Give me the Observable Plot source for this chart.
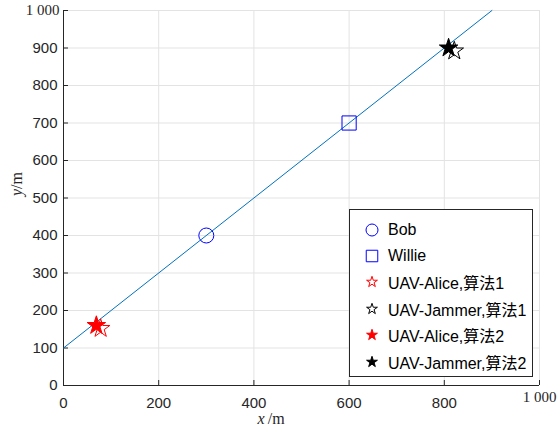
<!DOCTYPE html>
<html><head><meta charset="utf-8">
<script src="https://cdn.jsdelivr.net/npm/d3@7"></script>
<script src="https://cdn.jsdelivr.net/npm/@observablehq/plot@0.6"></script>
<style>
body{margin:0;background:#fff}
#wrap{position:relative;width:558px;height:430px;font-family:"Liberation Sans",Arial,"Noto Sans CJK SC",sans-serif}
#legend{position:absolute;left:349px;top:209px;width:182px;height:166px;border:1px solid #262626;background:#fff;box-sizing:content-box}
.row{position:absolute;left:0;height:20px;display:flex;align-items:center;font-size:16px;color:#000;white-space:nowrap}
.row svg{position:absolute;left:12px;top:0}
.row span{position:absolute;left:38px;font-family:"Liberation Sans","Noto Sans CJK SC",sans-serif}
.lab{position:absolute;font-family:"Liberation Serif","Times New Roman",serif;font-size:16px;line-height:18px;color:#262626;white-space:nowrap;text-align:center;width:36px}
</style>
</head><body><div id="wrap"></div>
<script>
// data
const lineX = [0, 900];
const lineY = [100, 1000];
const names = ["Bob", "Willie", "UAV-Alice,算法1", "UAV-Jammer,算法1", "UAV-Alice,算法2", "UAV-Jammer,算法2"];
const px = [300, 600, 78, 821, 69, 809];
const py = [400, 700, 152, 892, 160, 900];
const symbols = ["circle", "square", "star", "star", "star", "star"];
const strokes = ["#0000ff", "#0000ff", "#ff0000", "#000000", "#ff0000", "#000000"];
const fills = ["none", "none", "none", "none", "#ff0000", "#000000"];
const xTicks = [0, 200, 400, 600, 800, 1000];
const yTicks = [0, 100, 200, 300, 400, 500, 600, 700, 800, 900, 1000];
const fmt = d => d === 1000 ? "1 000" : String(d);

const sizes = [7.5, 8, 5.8, 5.8, 5.8, 5.8];
const legendSizes = [6, 6.5, 3.4, 3.4, 3.4, 3.4];

const lineData = lineX.map((x, i) => ({x, y: lineY[i]}));
const axisColor = "#262626";
const gridColor = "#e3e3e3";

const marks = [
  Plot.gridX(xTicks, {stroke: gridColor, strokeOpacity: 1}),
  Plot.gridY(yTicks, {stroke: gridColor, strokeOpacity: 1}),
  Plot.axisX(xTicks.slice(0, -1), {tickSize: 0, tickPadding: 12, label: null, tickFormat: fmt, fontSize: 15, color: axisColor}),
  Plot.axisX([1000], {tickSize: 0, tickPadding: 6, label: null, tickFormat: fmt, fontSize: 15, fontFamily: "Liberation Serif", color: axisColor}),
  Plot.axisX(xTicks, {anchor: "bottom", tickSize: -5, text: null, label: null, stroke: axisColor}),
  Plot.axisY(yTicks.slice(0, -1), {tickSize: 0, tickPadding: 6, label: null, tickFormat: fmt, fontSize: 15, color: axisColor}),
  Plot.axisY([1000], {tickSize: 0, tickPadding: 4, label: null, tickFormat: fmt, fontSize: 15, fontFamily: "Liberation Serif", color: axisColor}),
  Plot.axisY(yTicks, {anchor: "left", tickSize: -5, text: null, label: null, stroke: axisColor}),
  Plot.ruleX([0], {stroke: axisColor}),
  Plot.ruleY([0], {stroke: axisColor}),
  Plot.line(lineData, {x: "x", y: "y", stroke: "#0072BD", strokeWidth: 1})
];
names.forEach((n, i) => {
  marks.push(Plot.dot([i], {x: i => px[i], y: i => py[i], symbol: symbols[i], r: sizes[i],
    stroke: strokes[i], fill: fills[i], strokeWidth: 1}));
});

const plot = Plot.plot({
  width: 558, height: 430,
  marginLeft: 63, marginRight: 19, marginTop: 10, marginBottom: 45,
  x: {domain: [0, 1000]},
  y: {domain: [0, 1000]},
  style: {fontFamily: "Liberation Sans, Arial, sans-serif", background: "#fff", overflow: "visible"},
  marks
});
const wrap = document.getElementById("wrap");
wrap.appendChild(plot);

// axis titles
const xl = document.createElement("div");
xl.className = "lab";
xl.innerHTML = "<i>x</i>&thinsp;/m";
xl.style.left = "253px"; xl.style.top = "410px";
wrap.appendChild(xl);
const yl = document.createElement("div");
yl.className = "lab";
yl.innerHTML = "<i>y</i>/m";
yl.style.left = "-1px"; yl.style.top = "175px";
yl.style.transform = "rotate(-90deg)";
wrap.appendChild(yl);

// legend
const lg = document.createElement("div");
lg.id = "legend";
wrap.appendChild(lg);
const rowY = [10, 36, 62, 89, 115, 142];
names.forEach((n, i) => {
  const row = document.createElement("div");
  row.className = "row";
  row.style.top = rowY[i] + "px";
  const sym = d3.symbol(symbols[i] === "circle" ? d3.symbolCircle : symbols[i] === "square" ? d3.symbolSquare : d3.symbolStar,
    Math.PI * legendSizes[i] * legendSizes[i])();
  row.innerHTML = `<svg width="20" height="20" viewBox="-10 -10 20 20"><path d="${sym}" fill="${fills[i]}" stroke="${strokes[i]}" stroke-width="1"/></svg><span>${n}</span>`;
  lg.appendChild(row);
});
</script>
</body></html>
